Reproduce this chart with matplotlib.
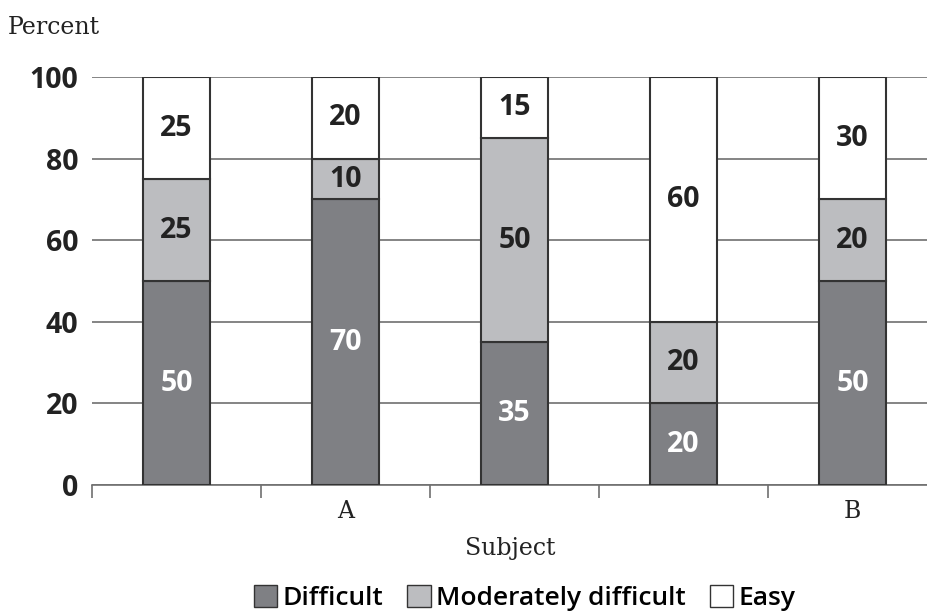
import numpy as np
import matplotlib.pyplot as plt
from matplotlib.patches import Patch

subjects = ['', 'A', '', '', 'B']
difficult = [50, 70, 35, 20, 50]
moderate = [25, 10, 50, 20, 20]
easy = [25, 20, 15, 60, 30]

dark = '#7f8084'
mid = '#bcbdc0'
edge = '#333333'
sans = ['Open Sans', 'DejaVu Sans']
serif = ['DejaVu Serif']

fig = plt.figure(figsize=(9.27, 6.14), dpi=100)
ax = fig.add_axes([0.0992, 0.210, 0.9008, 0.6645])

x = np.arange(len(subjects))
w = 0.40
ax.bar(x, difficult, w, color=dark, edgecolor=edge, linewidth=1.5, zorder=3)
ax.bar(x, moderate, w, bottom=difficult, color=mid, edgecolor=edge, linewidth=1.5, zorder=3)
bottom2 = np.array(difficult) + np.array(moderate)
ax.bar(x, easy, w, bottom=bottom2, color='white', edgecolor=edge, linewidth=1.5, zorder=3)

for i in range(len(x)):
    ax.text(x[i], difficult[i] / 2, str(difficult[i]), ha='center', va='center',
            color='white', fontsize=20.5, fontweight='bold', family=sans, zorder=4)
    ax.text(x[i], difficult[i] + moderate[i] / 2, str(moderate[i]), ha='center', va='center',
            color='#222222', fontsize=20.5, fontweight='bold', family=sans, zorder=4)
    ax.text(x[i], bottom2[i] + easy[i] / 2, str(easy[i]), ha='center', va='center',
            color='#222222', fontsize=20.5, fontweight='bold', family=sans, zorder=4)

ax.set_xlim(-0.5, 4.44)
ax.set_ylim(0, 100)
ax.set_yticks([0, 20, 40, 60, 80, 100])
ax.yaxis.grid(True, color='#707070', linewidth=1.2, zorder=0)
ax.tick_params(axis='y', length=0, pad=10)
for lab in ax.get_yticklabels():
    lab.set_fontfamily(sans)
    lab.set_fontweight('bold')
    lab.set_fontsize(20.5)
    lab.set_color('#222222')

ax.set_xticks(x)
ax.set_xticklabels(subjects, fontfamily=serif, fontsize=17, color='#222222')
ax.tick_params(axis='x', which='major', length=0, pad=11)
ax.set_xticks(np.arange(-0.5, 4.0, 1.0), minor=True)
ax.tick_params(axis='x', which='minor', length=9, width=1.2, color='#707070')

for s in ['left', 'right', 'top']:
    ax.spines[s].set_visible(False)
ax.spines['bottom'].set_color('#707070')
ax.spines['bottom'].set_linewidth(1.2)

fig.text(0.008, 0.955, 'Percent', family=serif, fontsize=17, color='#222222', va='center')
fig.text(0.55, 0.107, 'Subject', family=serif, fontsize=17, color='#222222',
         ha='center', va='center')

handles = [Patch(facecolor=dark, edgecolor=edge, label='Difficult'),
           Patch(facecolor=mid, edgecolor=edge, label='Moderately difficult'),
           Patch(facecolor='white', edgecolor=edge, label='Easy')]
leg = fig.legend(handles=handles, loc='center', bbox_to_anchor=(0.566, 0.026), ncol=3,
                 frameon=False, handlelength=0.9, handleheight=0.9, handletextpad=0.2,
                 columnspacing=0.9, prop={'family': sans, 'size': 19, 'weight': 'semibold'})

fig.savefig('out.png', dpi=100)
